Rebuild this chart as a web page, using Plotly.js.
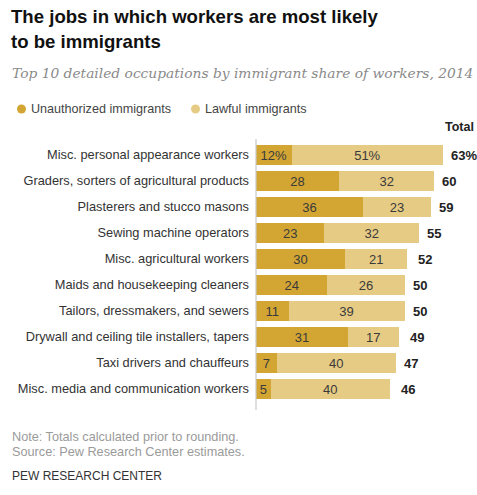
<!DOCTYPE html>
<html>
<head>
<meta charset="utf-8">
<script src="https://cdn.plot.ly/plotly-3.0.1.min.js"></script>
<style>html,body{margin:0;padding:0;background:#fff;}#chart{width:477px;height:495px;}</style>
</head>
<body>
<div id="chart"></div>
<script>
const categories = [
  "Misc. personal appearance workers",
  "Graders, sorters of agricultural products",
  "Plasterers and stucco masons",
  "Sewing machine operators",
  "Misc. agricultural workers",
  "Maids and housekeeping cleaners",
  "Tailors, dressmakers, and sewers",
  "Drywall and ceiling tile installers, tapers",
  "Taxi drivers and chauffeurs",
  "Misc. media and communication workers"
];
const unauthorized = [12, 28, 36, 23, 30, 24, 11, 31, 7, 5];
const lawful = [51, 32, 23, 32, 21, 26, 39, 17, 40, 40];
const totals = [63, 60, 59, 55, 52, 50, 50, 49, 47, 46];
const unauthLabels = ["12%", "28", "36", "23", "30", "24", "11", "31", "7", "5"];
const lawfulLabels = ["51%", "32", "23", "32", "21", "26", "39", "17", "40", "40"];
const totalLabels = ["63%", "60", "59", "55", "52", "50", "50", "49", "47", "46"];

const C_UN = "#d3a634";
const C_LA = "#e6cb84";
const FONT = "Liberation Sans, Arial, sans-serif";

const barFont = {family: FONT, size: 13, color: "#3a3a3a"};

const traces = [
  {
    type: "bar", orientation: "h", name: "Unauthorized immigrants",
    y: categories, x: unauthorized, text: unauthLabels,
    textposition: "inside", insidetextanchor: "middle", constraintext: "none", textangle: 0,
    textfont: barFont, marker: {color: C_UN, line: {width: 0}},
    hoverinfo: "skip", showlegend: false
  },
  {
    type: "bar", orientation: "h", name: "Lawful immigrants",
    y: categories, x: lawful, text: lawfulLabels,
    textposition: "inside", insidetextanchor: "middle", constraintext: "none", textangle: 0,
    textfont: barFont, marker: {color: C_LA, line: {width: 0}},
    hoverinfo: "skip", showlegend: false
  }
];

const annotations = [];
categories.forEach((c, i) => {
  annotations.push({
    x: totals[i], y: c, xref: "x", yref: "y", text: totalLabels[i],
    showarrow: false, xanchor: "left", xshift: 6,
    font: {family: FONT, size: 13, color: "#222", weight: "bold"}
  });
});
const extra = [
  {text: "<b>The jobs in which workers are most likely</b>", x: 9, y: 17, size: 18.6, color: "#111", family: FONT},
  {text: "<b>to be immigrants</b>", x: 9, y: 41, size: 18.6, color: "#111", family: FONT},
  {text: "<i>Top 10 detailed occupations by immigrant share of workers, 2014</i>", x: 10, y: 73, size: 13.8, color: "#8a8a8a", family: "DejaVu Serif, Georgia, serif"},
  {text: "Unauthorized immigrants", x: 29, y: 109, size: 12.6, color: "#444", family: FONT},
  {text: "Lawful immigrants", x: 203, y: 109, size: 12.6, color: "#444", family: FONT},
  {text: "<b>Total</b>", x: 476, y: 127, size: 12.5, color: "#222", family: FONT, anchor: "right"},
  {text: "Note: Totals calculated prior to rounding.", x: 10, y: 437, size: 12.7, color: "#9a9a9a", family: FONT},
  {text: "Source: Pew Research Center estimates.", x: 10, y: 452, size: 12.7, color: "#9a9a9a", family: FONT},
  {text: "PEW RESEARCH CENTER", x: 10, y: 476, size: 12, color: "#333", family: FONT}
];
const W = 477, H = 495, ML = 256, MR = 0, MT = 142, MB = 93;
const PW = W - ML - MR, PH = H - MT - MB;
extra.forEach(e => {
  annotations.push({
    xref: "paper", yref: "paper",
    x: (e.x - ML) / PW, y: 1 - (e.y - MT) / PH,
    text: e.text, showarrow: false,
    xanchor: e.anchor || "left", yanchor: "middle",
    font: {family: e.family, size: e.size, color: e.color}
  });
});

const shapes = [
  {type: "circle", xref: "paper", yref: "paper",
   x0: (17 - ML) / PW, x1: (26 - ML) / PW, y0: 1 - (113.5 - MT) / PH, y1: 1 - (104.5 - MT) / PH,
   fillcolor: C_UN, line: {width: 0}},
  {type: "circle", xref: "paper", yref: "paper",
   x0: (191 - ML) / PW, x1: (200 - ML) / PW, y0: 1 - (113.5 - MT) / PH, y1: 1 - (104.5 - MT) / PH,
   fillcolor: C_LA, line: {width: 0}},
  {type: "line", xref: "paper", yref: "paper", x0: 0, x1: 0,
   y0: 1 - (410 - MT) / PH, y1: 1 - (139 - MT) / PH,
   line: {color: "#c8c8c8", width: 1.2}}
];

const layout = {
  width: W, height: H,
  margin: {l: ML, r: MR, t: MT, b: MB},
  paper_bgcolor: "#fff", plot_bgcolor: "#fff",
  barmode: "stack", bargap: 0.23,
  xaxis: {range: [0, PW / 2.97], visible: false, fixedrange: true},
  yaxis: {
    autorange: "reversed", showgrid: false, zeroline: false, showline: false,
    ticks: "", ticklabelstandoff: 6,
    tickfont: {family: FONT, size: 12.8, color: "#333"}, fixedrange: true
  },
  showlegend: false,
  annotations: annotations,
  shapes: shapes,
  font: {family: FONT}
};

Plotly.newPlot("chart", traces, layout, {displayModeBar: false, staticPlot: true});
</script>
</body>
</html>
